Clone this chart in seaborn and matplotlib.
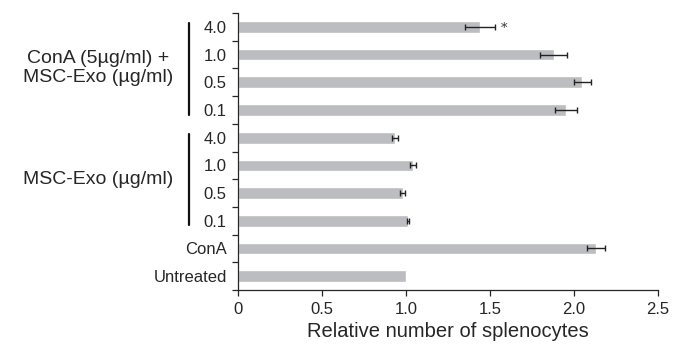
import numpy as np
import pandas as pd
import matplotlib
matplotlib.use('Agg')
import matplotlib.pyplot as plt
import seaborn as sns

# Data, top to bottom
keys = ['c40', 'c10', 'c05', 'c01', 'm40', 'm10', 'm05', 'm01', 'cona', 'untreated']
tick_labels = ['4.0', '1.0', '0.5', '0.1', '4.0', '1.0', '0.5', '0.1', 'ConA', 'Untreated']
values = [1.44, 1.88, 2.05, 1.95, 0.935, 1.04, 0.98, 1.01, 2.13, 1.00]
errors = [0.09, 0.08, 0.05, 0.065, 0.02, 0.018, 0.014, 0.006, 0.055, 0.0]
group_labels = ['ConA (5µg/ml) +\nMSC-Exo (µg/ml)', 'MSC-Exo (µg/ml)']
signif = ['*', '', '', '', '', '', '', '', '', '']

df = pd.DataFrame({'key': keys, 'value': values, 'err': errors})

sns.set_style('ticks')
plt.rcParams['font.family'] = ['Liberation Sans', 'DejaVu Sans']

fig = plt.figure(figsize=(6.73, 3.44), dpi=100)
ax = fig.add_axes([0.3536, 0.157, 0.6241, 0.805])

sns.barplot(data=df, x='value', y='key', order=keys, color='#bcbdc0',
            saturation=1, width=0.42, errorbar=None, ax=ax)
ypos = np.arange(len(keys))
has_err = df['err'] > 0
ax.errorbar(df['value'][has_err], ypos[has_err], xerr=df['err'][has_err],
            fmt='none', ecolor='#222222', elinewidth=1.0, capsize=2.5, capthick=1.0)

for y, v, e, s in zip(ypos, values, errors, signif):
    if s:
        ax.text(v + e + 0.035, y + 0.05, s, ha='left', va='center',
                fontsize=9.5, family='DejaVu Serif', color='#333333')

ax.set_xlim(0, 2.5)
ax.set_ylim(len(keys) - 0.5, -0.5)
ax.set_xticks([0, 0.5, 1.0, 1.5, 2.0, 2.5])
ax.set_xticklabels(['0', '0.5', '1.0', '1.5', '2.0', '2.5'], fontsize=12)
ax.set_yticks(np.arange(len(keys) + 1) - 0.5)
ax.set_yticklabels([])
ax.set_yticks(ypos, minor=True)
ax.set_yticklabels(tick_labels, minor=True, fontsize=12)
ax.tick_params(axis='y', which='minor', length=0, pad=8)
ax.tick_params(axis='y', which='major', length=4, width=0.9)
ax.tick_params(axis='x', length=4, width=0.9, pad=5)
ax.set_ylabel('')
ax.set_xlabel('Relative number of splenocytes', fontsize=14.5, labelpad=3)
for side in ['top', 'right']:
    ax.spines[side].set_visible(False)
for side in ['left', 'bottom']:
    ax.spines[side].set_linewidth(0.9)

# group brackets
for label, (y0, y1) in zip(group_labels, [(0, 3), (4, 7)]):
    ax.plot([-0.117, -0.117], [y0 - 0.15, y1 + 0.17], color='#111111', lw=1.6,
            transform=ax.get_yaxis_transform(), clip_on=False)
    ax.text(-0.332, (y0 + y1) / 2, label, ha='center', va='center',
            fontsize=14, linespacing=1.15, transform=ax.get_yaxis_transform())

fig.savefig('out.png', dpi=100)
